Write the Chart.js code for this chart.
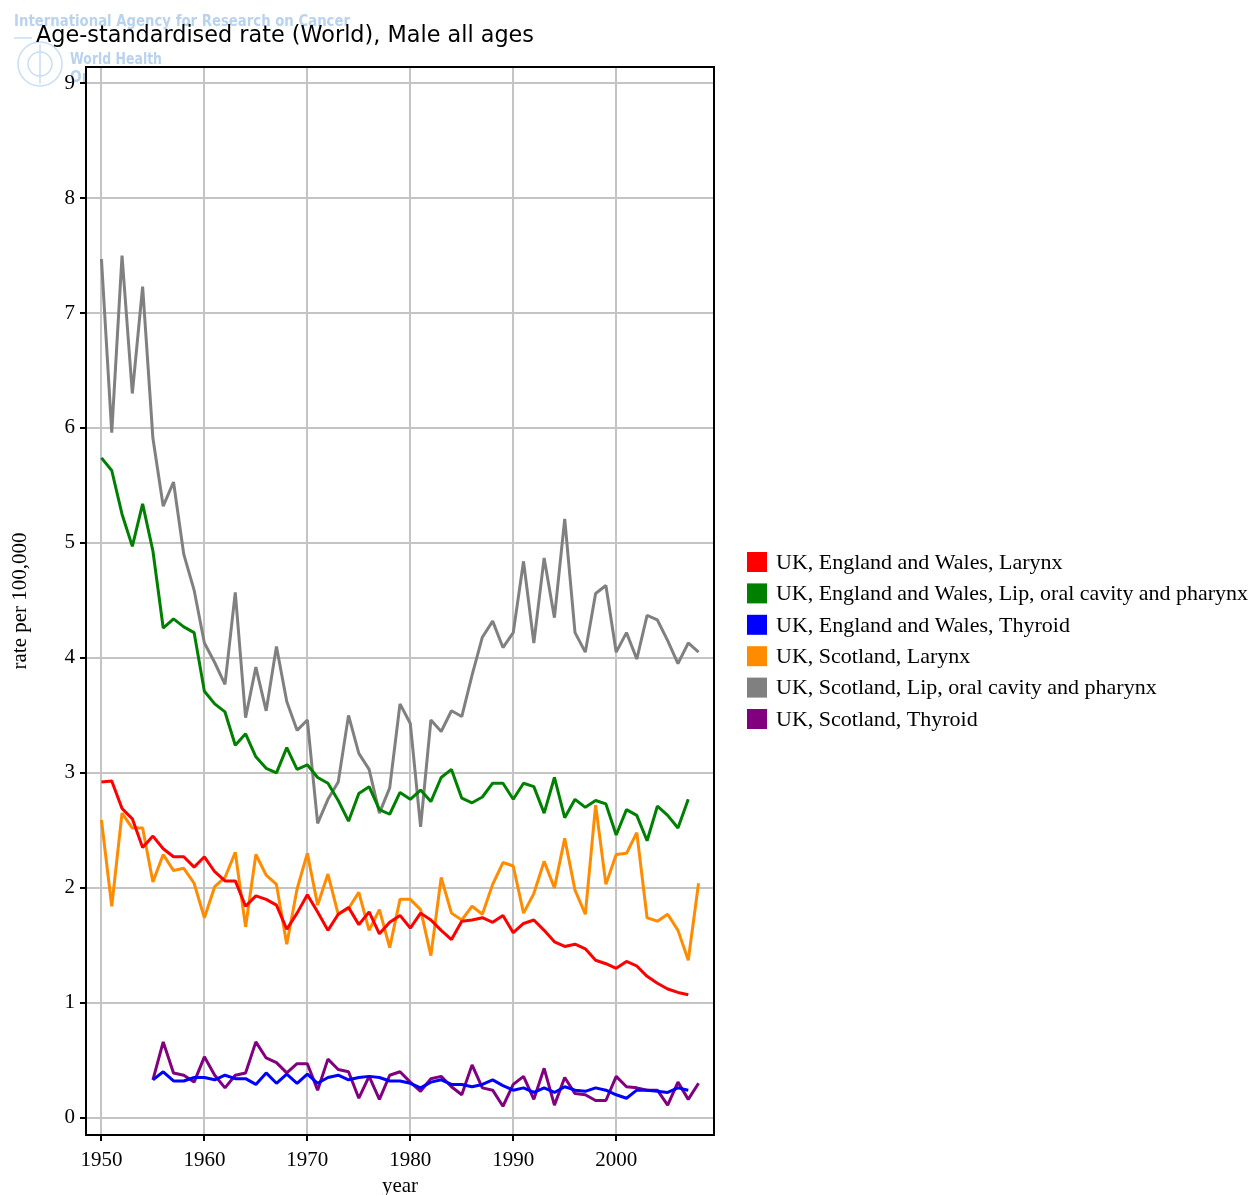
<!DOCTYPE html>
<html>
<head>
<meta charset="utf-8">
<script src="https://cdn.jsdelivr.net/npm/chart.js@4/dist/chart.umd.min.js"></script>
<style>
  html, body { margin: 0; padding: 0; background: #fff; }
  #wrap { width: 1251px; height: 1195px; }
</style>
</head>
<body>
<div id="wrap"><canvas id="c" width="1251" height="1195"></canvas></div>
<script>
// Years covered by the series
const years = [];
for (let y = 1950; y <= 2008; y++) years.push(y);

// Age-standardised rates per 100,000, males, all ages
const ewLarynx = [
  2.92, 2.93, 2.69, 2.60, 2.35, 2.45, 2.34, 2.27, 2.27, 2.18,
  2.27, 2.14, 2.06, 2.06, 1.84, 1.93, 1.90, 1.85, 1.64, 1.78,
  1.94, 1.79, 1.63, 1.77, 1.83, 1.68, 1.79, 1.60, 1.70, 1.76,
  1.65, 1.78, 1.72, 1.63, 1.55, 1.71, 1.72, 1.74, 1.70, 1.76,
  1.61, 1.69, 1.72, 1.63, 1.53, 1.49, 1.51, 1.47, 1.37, 1.34,
  1.30, 1.36, 1.32, 1.23, 1.17, 1.12, 1.09, 1.07, null
];
const ewLip = [
  5.74, 5.63, 5.25, 4.97, 5.34, 4.93, 4.26, 4.34, 4.27, 4.22,
  3.71, 3.60, 3.53, 3.24, 3.34, 3.14, 3.04, 3.00, 3.22, 3.03,
  3.07, 2.96, 2.91, 2.76, 2.58, 2.82, 2.88, 2.68, 2.64, 2.83,
  2.77, 2.85, 2.75, 2.96, 3.03, 2.78, 2.74, 2.79, 2.91, 2.91,
  2.77, 2.91, 2.88, 2.65, 2.96, 2.61, 2.77, 2.70, 2.76, 2.73,
  2.46, 2.68, 2.63, 2.41, 2.71, 2.63, 2.52, 2.77, null
];
const ewThyroid = [
  null, null, null, null, null,
  0.33, 0.40, 0.32, 0.32, 0.35,
  0.35, 0.33, 0.37, 0.34, 0.34, 0.29, 0.39, 0.30, 0.38, 0.30,
  0.38, 0.30, 0.35, 0.37, 0.33, 0.35, 0.36, 0.35, 0.32, 0.32,
  0.30, 0.26, 0.31, 0.33, 0.29, 0.29, 0.27, 0.29, 0.33, 0.28,
  0.24, 0.26, 0.22, 0.26, 0.22, 0.27, 0.24, 0.23, 0.26, 0.24,
  0.20, 0.17, 0.24, 0.24, 0.23, 0.22, 0.26, 0.24, null
];
const scLarynx = [
  2.59, 1.84, 2.65, 2.52, 2.52, 2.05, 2.29, 2.15, 2.17, 2.04,
  1.74, 2.01, 2.09, 2.31, 1.66, 2.29, 2.11, 2.03, 1.51, 1.99,
  2.30, 1.85, 2.12, 1.77, 1.82, 1.96, 1.63, 1.81, 1.48, 1.90,
  1.90, 1.81, 1.41, 2.09, 1.78, 1.72, 1.84, 1.77, 2.03, 2.22,
  2.19, 1.78, 1.95, 2.23, 2.00, 2.43, 1.98, 1.77, 2.72, 2.03,
  2.29, 2.30, 2.48, 1.74, 1.71, 1.77, 1.63, 1.37, 2.04
];
const scLip = [
  7.47, 5.96, 7.50, 6.30, 7.23, 5.91, 5.32, 5.53, 4.90, 4.59,
  4.13, 3.96, 3.77, 4.57, 3.48, 3.92, 3.54, 4.10, 3.62, 3.37,
  3.46, 2.56, 2.77, 2.92, 3.50, 3.17, 3.03, 2.65, 2.87, 3.60,
  3.43, 2.53, 3.46, 3.36, 3.54, 3.49, 3.85, 4.18, 4.32, 4.09,
  4.22, 4.84, 4.13, 4.87, 4.35, 5.21, 4.22, 4.05, 4.56, 4.63,
  4.05, 4.22, 3.99, 4.37, 4.33, 4.15, 3.95, 4.13, 4.05
];
const scThyroid = [
  null, null, null, null, null,
  0.33, 0.66, 0.39, 0.37, 0.31,
  0.53, 0.37, 0.26, 0.37, 0.39, 0.66, 0.52, 0.48, 0.39, 0.47,
  0.47, 0.24, 0.51, 0.42, 0.40, 0.17, 0.36, 0.16, 0.37, 0.40,
  0.31, 0.23, 0.34, 0.36, 0.27, 0.20, 0.46, 0.26, 0.24, 0.10,
  0.29, 0.36, 0.16, 0.43, 0.11, 0.35, 0.21, 0.20, 0.15, 0.15,
  0.36, 0.27, 0.26, 0.24, 0.24, 0.11, 0.31, 0.16, 0.30
];

const seriesLabels = [
  'UK, England and Wales, Larynx',
  'UK, England and Wales, Lip, oral cavity and pharynx',
  'UK, England and Wales, Thyroid',
  'UK, Scotland, Larynx',
  'UK, Scotland, Lip, oral cavity and pharynx',
  'UK, Scotland, Thyroid'
];
const seriesValues = [ewLarynx, ewLip, ewThyroid, scLarynx, scLip, scThyroid];
const seriesColors = ['#ff0000', '#008000', '#0000ff', '#ff8c00', '#808080', '#800080'];

const xTicks = [1950, 1960, 1970, 1980, 1990, 2000];
const yTicks = [0, 1, 2, 3, 4, 5, 6, 7, 8, 9];

const chartTitle = 'Age-standardised rate (World), Male all ages';
const xTitle = 'year';
const yTitle = 'rate per 100,000';

const SERIF = '"Liberation Serif", "Times New Roman", serif';
const SANS = '"DejaVu Sans", Tahoma, Verdana, sans-serif';

const datasets = seriesLabels.map((label, i) => ({
  label,
  data: years.map((yr, k) => ({ x: yr, y: seriesValues[i][k] })),
  borderColor: seriesColors[i],
  backgroundColor: seriesColors[i],
  borderWidth: 3,
  borderJoinStyle: 'bevel',
  pointRadius: 0,
  pointHoverRadius: 0,
  tension: 0,
  spanGaps: false,
  fill: false
}));

// Background: watermark, title and white plotting panel
const backdrop = {
  id: 'backdrop',
  beforeDraw(chart) {
    const ctx = chart.ctx;
    const a = chart.chartArea;
    ctx.save();
    ctx.fillStyle = '#fff';
    ctx.fillRect(0, 0, chart.width, chart.height);

    // faint agency watermark
    ctx.fillStyle = '#b9d3ee';
    ctx.strokeStyle = '#c9def3';
    ctx.font = 'bold 16px ' + SANS;
    ctx.textBaseline = 'alphabetic';
    ctx.fillText('International Agency for Research on Cancer', 14, 26, 336);
    ctx.lineWidth = 1.5;
    ctx.beginPath(); ctx.moveTo(14, 38); ctx.lineTo(32, 38); ctx.stroke();
    ctx.beginPath(); ctx.arc(40, 64, 22, 0, Math.PI * 2); ctx.stroke();
    ctx.beginPath(); ctx.arc(40, 64, 12, 0, Math.PI * 2); ctx.stroke();
    ctx.beginPath(); ctx.moveTo(40, 44); ctx.lineTo(40, 84); ctx.stroke();
    ctx.fillText('World Health', 70, 64, 92);
    ctx.fillText('Organization', 70, 82, 100);

    // plotting panel covers the watermark
    ctx.fillStyle = '#fff';
    ctx.fillRect(a.left, a.top, a.right - a.left, a.bottom - a.top);

    ctx.fillStyle = '#000';
    ctx.font = '23px ' + SANS;
    ctx.fillText(chartTitle, 36, 42, 498);
    ctx.restore();
  },
  afterDraw(chart) {
    const ctx = chart.ctx;
    const a = chart.chartArea;
    ctx.save();
    // panel frame
    ctx.strokeStyle = '#000';
    ctx.lineWidth = 2;
    ctx.strokeRect(a.left, a.top, a.right - a.left, a.bottom - a.top);

    // legend
    const x0 = 747, top0 = 552, step = 31.4;
    ctx.font = '22px ' + SERIF;
    ctx.textBaseline = 'middle';
    chart.data.datasets.forEach((ds, i) => {
      const yc = top0 + 10 + i * step;
      ctx.fillStyle = ds.borderColor;
      ctx.fillRect(x0, yc - 10, 20, 20);
      ctx.fillStyle = '#000';
      ctx.fillText(ds.label, 776, yc + 1, 472);
    });
    ctx.restore();
  }
};

new Chart(document.getElementById('c'), {
  type: 'line',
  data: { datasets },
  options: {
    responsive: false,
    animation: false,
    devicePixelRatio: 1,
    layout: { padding: { top: 67, right: 537, left: 0, bottom: 0 } },
    plugins: {
      legend: { display: false },
      tooltip: { enabled: false },
      title: { display: false }
    },
    scales: {
      x: {
        type: 'linear',
        min: 1948.5,
        max: 2009.5,
        afterBuildTicks(s) { s.ticks = xTicks.map(v => ({ value: v })); },
        afterFit(s) { s.height = 60; },
        ticks: {
          color: '#000',
          font: { family: SERIF, size: 21 },
          padding: 7,
          maxRotation: 0,
          callback: v => String(v)
        },
        grid: {
          color: '#c4c4c4',
          lineWidth: 2,
          tickColor: '#000',
          tickWidth: 2,
          tickLength: 6
        },
        border: { display: true, color: '#000', width: 2 },
        title: {
          display: true,
          text: xTitle,
          color: '#000',
          font: { family: SERIF, size: 21, lineHeight: 0.8 },
          padding: { top: 0, bottom: 0 }
        }
      },
      y: {
        type: 'linear',
        min: -0.15,
        max: 9.14,
        afterBuildTicks(s) { s.ticks = yTicks.map(v => ({ value: v })); },
        afterFit(s) { s.width = 86; },
        ticks: {
          color: '#000',
          font: { family: SERIF, size: 21 },
          padding: 5,
          callback: v => String(v)
        },
        grid: {
          color: '#c4c4c4',
          lineWidth: 2,
          tickColor: '#000',
          tickWidth: 2,
          tickLength: 6
        },
        border: { display: true, color: '#000', width: 2 },
        title: {
          display: true,
          text: yTitle,
          color: '#000',
          font: { family: SERIF, size: 21, lineHeight: 1.0 },
          padding: { top: 10, bottom: 0 }
        }
      }
    }
  },
  plugins: [backdrop]
});
</script>
</body>
</html>
